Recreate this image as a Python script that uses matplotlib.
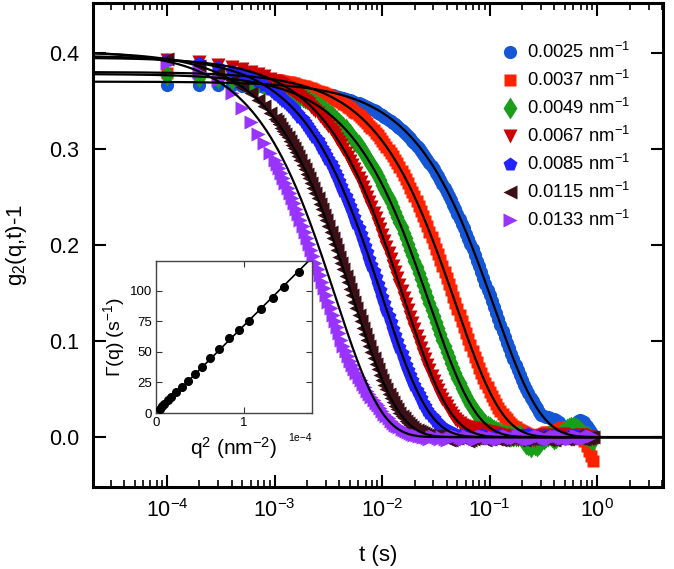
import numpy as np
import matplotlib
matplotlib.use("Agg")
import matplotlib.pyplot as plt
from matplotlib.ticker import LogLocator, NullFormatter

plt.rcParams['font.family'] = ['Liberation Sans', 'DejaVu Sans']
plt.rcParams['mathtext.fontset'] = 'custom'
plt.rcParams['mathtext.rm'] = 'Liberation Sans'
plt.rcParams['mathtext.it'] = 'Liberation Sans:italic'
plt.rcParams['mathtext.bf'] = 'Liberation Sans:bold'

# correlator lag times (s): channel times and the in-between channels
lag_t = [1e-4, 2e-4, 3e-4, 4e-4, 5e-4, 6e-4, 7e-4, 8e-4, 9e-4,
         1.000e-3, 1.096e-3, 1.202e-3, 1.318e-3, 1.445e-3, 1.585e-3, 1.738e-3, 1.905e-3,
         2.089e-3, 2.291e-3, 2.512e-3, 2.754e-3, 3.020e-3, 3.311e-3, 3.631e-3, 3.981e-3,
         4.365e-3, 4.786e-3, 5.248e-3, 5.754e-3, 6.310e-3, 6.918e-3, 7.586e-3, 8.318e-3, 9.120e-3,
         1.000e-2, 1.096e-2, 1.202e-2, 1.318e-2, 1.445e-2, 1.585e-2, 1.738e-2, 1.905e-2,
         2.089e-2, 2.291e-2, 2.512e-2, 2.754e-2, 3.020e-2, 3.311e-2, 3.631e-2, 3.981e-2,
         4.365e-2, 4.786e-2, 5.248e-2, 5.754e-2, 6.310e-2, 6.918e-2, 7.586e-2, 8.318e-2, 9.120e-2,
         1.000e-1, 1.096e-1, 1.202e-1, 1.318e-1, 1.445e-1, 1.585e-1, 1.738e-1, 1.905e-1,
         2.089e-1, 2.291e-1, 2.512e-1, 2.754e-1, 3.020e-1, 3.311e-1, 3.631e-1, 3.981e-1,
         4.365e-1, 4.786e-1, 5.248e-1, 5.754e-1, 6.310e-1, 6.918e-1, 7.586e-1, 8.318e-1, 9.120e-1]
lag_t_mid = [1.047e-3, 1.148e-3, 1.259e-3, 1.380e-3, 1.514e-3, 1.660e-3, 1.820e-3, 1.995e-3,
             2.188e-3, 2.399e-3, 2.630e-3, 2.884e-3, 3.162e-3, 3.467e-3, 3.802e-3, 4.169e-3,
             4.571e-3, 5.012e-3, 5.495e-3, 6.026e-3, 6.607e-3, 7.244e-3, 7.943e-3, 8.710e-3, 9.550e-3,
             1.047e-2, 1.148e-2, 1.259e-2, 1.380e-2, 1.514e-2, 1.660e-2, 1.820e-2, 1.995e-2,
             2.188e-2, 2.399e-2, 2.630e-2, 2.884e-2, 3.162e-2, 3.467e-2, 3.802e-2, 4.169e-2,
             4.571e-2, 5.012e-2, 5.495e-2, 6.026e-2, 6.607e-2, 7.244e-2, 7.943e-2, 8.710e-2, 9.550e-2,
             1.047e-1, 1.148e-1, 1.259e-1, 1.380e-1, 1.514e-1, 1.660e-1, 1.820e-1, 1.995e-1,
             2.188e-1, 2.399e-1, 2.630e-1, 2.884e-1, 3.162e-1, 3.467e-1, 3.802e-1, 4.169e-1,
             4.571e-1, 5.012e-1, 5.495e-1, 6.026e-1, 6.607e-1, 7.244e-1, 7.943e-1, 8.710e-1]

q_labels = ['0.0025 nm$^{-1}$', '0.0037 nm$^{-1}$', '0.0049 nm$^{-1}$', '0.0067 nm$^{-1}$',
            '0.0085 nm$^{-1}$', '0.0115 nm$^{-1}$', '0.0133 nm$^{-1}$']
colors = ['#1456d6', '#ff2200', '#1a9e1a', '#cc0000', '#2323ff', '#3d0f17', '#9933ff']
markers = ['o', 's', 'd', 'v', 'p', '<', '>']
msizes = [9.5, 9.0, 11.5, 9.5, 10, 9.5, 9.5]

# measured g2(q,t)-1 at lag_t
g2_0025 = [0.366, 0.366, 0.366, 0.366, 0.365, 0.365, 0.365, 0.364, 0.364,
           0.3637, 0.3633, 0.3630, 0.3626, 0.3622, 0.3617, 0.3612, 0.3607, 0.3601, 0.3594,
           0.3587, 0.3579, 0.3570, 0.3561, 0.3550, 0.3539, 0.3527, 0.3513, 0.3499, 0.3482,
           0.3465, 0.3446, 0.3425, 0.3402, 0.3377,
           0.3350, 0.3321, 0.3289, 0.3254, 0.3217, 0.3176, 0.3132, 0.3085, 0.3033, 0.2978,
           0.2919, 0.2855, 0.2787, 0.2713, 0.2635, 0.2552, 0.2465, 0.2372, 0.2274, 0.2172,
           0.2064, 0.1953, 0.1838, 0.1719, 0.1598,
           0.1474, 0.1350, 0.1226, 0.1103, 0.0982, 0.0865, 0.0752, 0.0646, 0.0546, 0.0454,
           0.0371, 0.0298, 0.0234, 0.021, 0.020, 0.019, 0.016, 0.011, 0.008, 0.010,
           0.015, 0.018, 0.016, 0.008, 0.002]
g2_0037 = [0.3792, 0.3784, 0.3776, 0.3768, 0.3760, 0.3753, 0.3745, 0.3737, 0.3729,
           0.3721, 0.3714, 0.3706, 0.3697, 0.3687, 0.3676, 0.3664, 0.3652, 0.3638, 0.3623,
           0.3606, 0.3588, 0.3568, 0.3546, 0.3522, 0.3497, 0.3469, 0.3438, 0.3405, 0.3369,
           0.3331, 0.3289, 0.3243, 0.3194, 0.3141,
           0.3084, 0.3022, 0.2956, 0.2885, 0.2809, 0.2729, 0.2643, 0.2552, 0.2456, 0.2354,
           0.2248, 0.2138, 0.2022, 0.1903, 0.1780, 0.1654, 0.1526, 0.1398, 0.1269, 0.1142,
           0.1017, 0.0896, 0.0779, 0.0668, 0.0565,
           0.0470, 0.0385, 0.0308, 0.0242, 0.0185, 0.0139, 0.0101, 0.0071, 0.0048, 0.0032,
           0.0020, 0.0012, 0.003, 0.005, 0.004, 0.006, 0.008, 0.010, 0.011, 0.010,
           0.009, 0.005, -0.004, -0.014, -0.025]
g2_0049 = [0.3766, 0.3753, 0.3739, 0.3726, 0.3712, 0.3698, 0.3685, 0.3672, 0.3658,
           0.3645, 0.3633, 0.3619, 0.3603, 0.3587, 0.3569, 0.3549, 0.3527, 0.3504, 0.3478,
           0.3450, 0.3420, 0.3387, 0.3352, 0.3313, 0.3271, 0.3226, 0.3177, 0.3124, 0.3067,
           0.3006, 0.2940, 0.2870, 0.2795, 0.2714,
           0.2629, 0.2539, 0.2443, 0.2342, 0.2237, 0.2126, 0.2011, 0.1893, 0.1770, 0.1645,
           0.1518, 0.1391, 0.1263, 0.1136, 0.1012, 0.0891, 0.0775, 0.0665, 0.0562, 0.0468,
           0.0383, 0.0307, 0.0241, 0.0184, 0.0138,
           0.0100, 0.0071, 0.0048, 0.0031, 0.0020, 0.0012, 0.0007, 0.002, -0.004, -0.008,
           -0.006, -0.009, -0.004, 0.000, 0.002, -0.002, 0.001, 0.004, 0.008, 0.010,
           0.009, 0.006, 0.002, 0.000, -0.003]
g2_0067 = [0.3925, 0.3901, 0.3876, 0.3852, 0.3827, 0.3803, 0.3779, 0.3756, 0.3732,
           0.3709, 0.3686, 0.3661, 0.3635, 0.3606, 0.3574, 0.3540, 0.3502, 0.3462, 0.3418,
           0.3371, 0.3320, 0.3265, 0.3205, 0.3141, 0.3073, 0.2999, 0.2920, 0.2836, 0.2747,
           0.2653, 0.2553, 0.2447, 0.2337, 0.2222,
           0.2102, 0.1978, 0.1850, 0.1719, 0.1587, 0.1453, 0.1319, 0.1187, 0.1057, 0.0931,
           0.0810, 0.0695, 0.0587, 0.0489, 0.0400, 0.0320, 0.0252, 0.0193, 0.0144, 0.012,
           0.010, 0.009, 0.008, 0.007, 0.006,
           0.005, 0.004, 0.003, 0.002, 0.001, 0.000, -0.002, -0.001, 0.001, 0.000,
           -0.003, -0.002, 0.001, 0.002, 0.000, -0.001, 0.002, 0.003, 0.001, -0.002,
           -0.001, 0.002, 0.001, 0.000, -0.002]
g2_0085 = [0.3930, 0.3891, 0.3853, 0.3814, 0.3776, 0.3739, 0.3702, 0.3665, 0.3628,
           0.3592, 0.3558, 0.3520, 0.3480, 0.3436, 0.3388, 0.3337, 0.3281, 0.3222, 0.3157,
           0.3088, 0.3014, 0.2935, 0.2851, 0.2761, 0.2666, 0.2566, 0.2460, 0.2349, 0.2233,
           0.2112, 0.1988, 0.1859, 0.1728, 0.1595,
           0.1461, 0.1326, 0.1193, 0.1062, 0.0936, 0.0814, 0.0698, 0.0590, 0.0491, 0.0402,
           0.0322, 0.0253, 0.0194, 0.0145, 0.0105, 0.0074, 0.0050, 0.0033, 0.0021, 0.0013,
           0.001, -0.001, 0.000, 0.002, 0.001,
           -0.001, 0.000, 0.002, 0.001, -0.002, 0.000, 0.001, -0.001, 0.002, 0.003,
           0.001, 0.000, -0.002, 0.001, 0.000, 0.002, 0.001, -0.001, 0.000, 0.002,
           0.001, 0.000, 0.001, -0.001, 0.000]
g2_0115 = [0.3934, 0.3860, 0.3787, 0.3716, 0.3645, 0.3577, 0.3509, 0.3443, 0.3378,
           0.3314, 0.3254, 0.3189, 0.3119, 0.3045, 0.2965, 0.2880, 0.2789, 0.2693, 0.2592,
           0.2485, 0.2373, 0.2256, 0.2134, 0.2008, 0.1878, 0.1746, 0.1611, 0.1475, 0.1339,
           0.1205, 0.1073, 0.0945, 0.0822, 0.0705,
           0.0596, 0.0496, 0.0406, 0.0325, 0.0255, 0.0196, 0.0146, 0.0106, 0.0075, 0.0051,
           0.0033, 0.0021, 0.0013, 0.0007, 0.000, -0.002, -0.003, -0.001, 0.000, -0.002,
           -0.004, -0.002, -0.001, 0.000, -0.003,
           -0.002, 0.000, -0.001, -0.003, -0.002, 0.000, 0.001, -0.002, -0.003, -0.001,
           0.000, -0.002, -0.001, 0.001, -0.002, -0.003, -0.001, 0.000, -0.002, -0.001,
           0.001, 0.000, -0.002, -0.001, 0.000]
g2_0133 = [0.389, 0.380, 0.372, 0.358, 0.343, 0.328, 0.316, 0.306, 0.296,
           0.2887, 0.2796, 0.2700, 0.2598, 0.2491, 0.2379, 0.2261, 0.2139, 0.2013, 0.1883,
           0.1750, 0.1615, 0.1479, 0.1343,
           0.121, 0.108, 0.095, 0.084, 0.075, 0.067, 0.059, 0.052, 0.045, 0.039,
           0.033, 0.027, 0.022, 0.017, 0.013, 0.010, 0.007, 0.005, 0.003, 0.002, 0.001,
           0.000, -0.002, 0.001, -0.001, 0.000, -0.003, -0.001, 0.001, 0.000, -0.002,
           0.001, -0.001, -0.002, 0.000, 0.001, -0.001, 0.000, -0.002, -0.001, 0.001,
           0.000, -0.001, 0.002, 0.000, -0.002, -0.001, 0.000, 0.001, -0.001, -0.002,
           0.000, 0.001, -0.001, 0.000, -0.002, 0.001, 0.000, -0.001, 0.000, 0.001]

# measured g2(q,t)-1 at lag_t_mid
g2_0025_mid = [0.3635, 0.3632, 0.3628, 0.3624, 0.3620, 0.3615, 0.3609, 0.3604, 0.3597, 0.3591,
               0.3583, 0.3575, 0.3566, 0.3556, 0.3545, 0.3533, 0.3520, 0.3506, 0.3491, 0.3474,
               0.3455, 0.3435, 0.3413, 0.3390, 0.3364, 0.3336, 0.3305, 0.3272, 0.3236, 0.3197,
               0.3154, 0.3109, 0.3059, 0.3006, 0.2949, 0.2887, 0.2821, 0.2751, 0.2675, 0.2595,
               0.2509, 0.2419, 0.2323, 0.2223, 0.2118, 0.2009, 0.1896, 0.1778, 0.1658, 0.1536,
               0.1412, 0.1288, 0.1164, 0.1042, 0.0923, 0.0808, 0.0698, 0.0595, 0.0499, 0.0412,
               0.0333, 0.0265, 0.022, 0.021, 0.019, 0.018, 0.013, 0.009, 0.009, 0.013,
               0.017, 0.017, 0.012, 0.005]
g2_0037_mid = [0.3718, 0.3710, 0.3701, 0.3692, 0.3682, 0.3670, 0.3658, 0.3645, 0.3630, 0.3614,
               0.3597, 0.3578, 0.3557, 0.3534, 0.3510, 0.3483, 0.3454, 0.3422, 0.3388, 0.3350,
               0.3310, 0.3266, 0.3219, 0.3168, 0.3113, 0.3053, 0.2989, 0.2921, 0.2848, 0.2770,
               0.2687, 0.2598, 0.2505, 0.2406, 0.2302, 0.2193, 0.2080, 0.1963, 0.1841, 0.1717,
               0.1591, 0.1462, 0.1334, 0.1205, 0.1079, 0.0956, 0.0836, 0.0723, 0.0616, 0.0517,
               0.0426, 0.0345, 0.0274, 0.0212, 0.0161, 0.0119, 0.0085, 0.0059, 0.0040, 0.0025,
               0.0016, 0.002, 0.004, 0.005, 0.005, 0.007, 0.009, 0.011, 0.011, 0.009,
               0.007, 0.001, -0.009, -0.020]
g2_0049_mid = [0.3639, 0.3626, 0.3611, 0.3595, 0.3578, 0.3559, 0.3538, 0.3516, 0.3491, 0.3465,
               0.3436, 0.3404, 0.3370, 0.3333, 0.3293, 0.3249, 0.3202, 0.3151, 0.3096, 0.3037,
               0.2974, 0.2906, 0.2833, 0.2755, 0.2672, 0.2584, 0.2491, 0.2393, 0.2290, 0.2182,
               0.2069, 0.1952, 0.1832, 0.1708, 0.1582, 0.1455, 0.1327, 0.1199, 0.1074, 0.0951,
               0.0832, 0.0719, 0.0613, 0.0514, 0.0424, 0.0343, 0.0273, 0.0211, 0.0160, 0.0118,
               0.0084, 0.0059, 0.0039, 0.0025, 0.0015, 0.0009, 0.001, -0.001, -0.007, -0.010,
               -0.008, -0.007, -0.002, 0.001, 0.000, -0.001, 0.003, 0.006, 0.009, 0.011,
               0.008, 0.004, 0.001, -0.002]
g2_0067_mid = [0.3698, 0.3674, 0.3648, 0.3621, 0.3590, 0.3557, 0.3521, 0.3483, 0.3441, 0.3395,
               0.3346, 0.3293, 0.3235, 0.3174, 0.3107, 0.3036, 0.2961, 0.2879, 0.2793, 0.2701,
               0.2603, 0.2501, 0.2393, 0.2280, 0.2162, 0.2040, 0.1914, 0.1785, 0.1653, 0.1520,
               0.1386, 0.1253, 0.1122, 0.0993, 0.0869, 0.0751, 0.0640, 0.0537, 0.0443, 0.0359,
               0.0285, 0.0221, 0.0167, 0.013, 0.011, 0.0095, 0.0085, 0.0075, 0.0065, 0.0055,
               0.0045, 0.0035, 0.0025, 0.0015, 0.000, -0.001, -0.002, 0.000, 0.001, -0.002,
               -0.003, 0.000, 0.002, 0.001, -0.001, 0.001, 0.002, 0.002, -0.001, -0.002,
               0.001, 0.002, 0.000, -0.001]
g2_0085_mid = [0.3575, 0.3539, 0.3500, 0.3458, 0.3412, 0.3363, 0.3309, 0.3252, 0.3190, 0.3123,
               0.3052, 0.2976, 0.2894, 0.2807, 0.2714, 0.2617, 0.2513, 0.2405, 0.2291, 0.2173,
               0.2051, 0.1924, 0.1794, 0.1662, 0.1528, 0.1393, 0.1259, 0.1127, 0.0998, 0.0874,
               0.0755, 0.0644, 0.0540, 0.0445, 0.0360, 0.0286, 0.0222, 0.0168, 0.0124, 0.0089,
               0.0062, 0.0041, 0.0027, 0.0016, 0.0010, 0.000, 0.000, 0.001, 0.002, 0.000,
               -0.001, 0.001, 0.002, -0.001, -0.001, 0.000, 0.001, 0.002, 0.002, 0.000,
               -0.001, 0.001, 0.001, -0.001, 0.001, 0.002, 0.000, 0.000, 0.001, 0.002,
               0.001, 0.000, 0.000, -0.001]
g2_0115_mid = [0.3285, 0.3222, 0.3155, 0.3082, 0.3005, 0.2923, 0.2835, 0.2742, 0.2643, 0.2539,
               0.2429, 0.2315, 0.2195, 0.2071, 0.1943, 0.1812, 0.1679, 0.1543, 0.1408, 0.1272,
               0.1139, 0.1009, 0.0883, 0.0763, 0.0650, 0.0545, 0.0450, 0.0364, 0.0289, 0.0224,
               0.0170, 0.0125, 0.0089, 0.0062, 0.0042, 0.0027, 0.0016, 0.0010, 0.000, -0.001,
               -0.003, -0.002, -0.001, -0.001, -0.003, -0.003, -0.001, -0.001, -0.002, -0.002,
               -0.001, -0.002, -0.003, -0.001, 0.000, -0.001, -0.003, -0.002, -0.001, -0.001,
               -0.002, 0.000, -0.001, -0.003, -0.002, -0.001, -0.001, -0.002, -0.001, 0.000,
               -0.001, -0.002, -0.001, 0.000]
g2_0133_mid = [0.2842, 0.2748, 0.2650, 0.2545, 0.2435, 0.2320, 0.2201, 0.2076, 0.1948, 0.1817,
               0.1683, 0.1547, 0.1411, 0.1275, 0.1145, 0.1015, 0.0895, 0.0795, 0.071, 0.063,
               0.0555, 0.0485, 0.042, 0.036, 0.030, 0.0245, 0.0195, 0.015, 0.0115, 0.0085,
               0.006, 0.004, 0.0025, 0.0015, 0.0005, -0.001, 0.000, 0.000, -0.002, -0.002,
               -0.002, 0.000, 0.001, -0.001, -0.001, 0.000, -0.002, -0.001, 0.001, 0.000,
               -0.001, -0.001, -0.002, 0.000, 0.001, -0.001, 0.001, 0.001, -0.001, -0.002,
               -0.001, 0.001, 0.000, -0.002, -0.001, 0.001, 0.000, -0.001, -0.001, -0.001,
               0.001, -0.001, -0.001, 0.001]

# single exponential fits: g2-1 = beta * exp(-2 Gamma t)
beta_fit = [0.370, 0.380, 0.378, 0.395, 0.397, 0.401, 0.402]
gamma_fit = [4.56, 10.45, 18.16, 31.55, 50.0, 95.3, 137.7]

# inset: decay rate vs q^2
q2_inset = [0.045e-4, 0.064e-4, 0.095e-4, 0.133e-4, 0.174e-4, 0.227e-4, 0.292e-4,
            0.367e-4, 0.443e-4, 0.527e-4, 0.617e-4, 0.716e-4, 0.826e-4, 0.936e-4,
            1.053e-4, 1.186e-4, 1.322e-4, 1.455e-4, 1.617e-4]
gamma_inset = [3.5, 5.4, 7.6, 10.3, 13.0, 17.1, 21.2, 26.6, 32.0, 37.5, 44.8, 52.4,
               61.4, 68.0, 75.5, 85.0, 93.8, 102.7, 115.5]

series = [g2_0025, g2_0037, g2_0049, g2_0067, g2_0085, g2_0115, g2_0133]
series_mid = [g2_0025_mid, g2_0037_mid, g2_0049_mid, g2_0067_mid, g2_0085_mid,
              g2_0115_mid, g2_0133_mid]

fig = plt.figure(figsize=(6.74, 5.69), dpi=100)
ax = fig.add_axes([0.138, 0.144, 0.846, 0.851])

t_all = lag_t + lag_t_mid
for y, ym, lab, c, m, ms in zip(series, series_mid, q_labels, colors, markers, msizes):
    ax.plot(t_all, y + ym, ls='none', marker=m, ms=ms, color=c, mec='none', label=lab)

t_fit = np.logspace(np.log10(2e-5), np.log10(5), 500)
for b, g in zip(beta_fit, gamma_fit):
    ax.plot(t_fit, b * np.exp(-2 * g * t_fit), color='k', lw=1.6, zorder=5)

ax.set_xscale('log')
ax.set_xlim(2.05e-5, 4.1)
ax.set_ylim(-0.052, 0.452)
ax.set_yticks([0.0, 0.1, 0.2, 0.3, 0.4])
ax.set_yticklabels(['0.0', '0.1', '0.2', '0.3', '0.4'])
ax.xaxis.set_major_locator(LogLocator(base=10, numticks=12))
ax.xaxis.set_minor_locator(LogLocator(base=10, subs=np.arange(2, 10), numticks=12))
ax.xaxis.set_minor_formatter(NullFormatter())
ax.tick_params(which='both', direction='in', top=True, right=True, labelsize=15.5)
ax.tick_params(which='major', length=9, width=1.5)
ax.tick_params(which='minor', length=5, width=1.2)
ax.tick_params(axis='y', pad=10)
ax.tick_params(axis='x', pad=9)
for s in ax.spines.values():
    s.set_linewidth(2.2)
ax.set_xlabel('t (s)', fontsize=16, labelpad=16.5)
ax.set_ylabel('g$_2$(q,t)-1', fontsize=16, labelpad=14)

ax.legend(loc='upper left', bbox_to_anchor=(0.7175, 0.919), frameon=False, fontsize=13.2,
          numpoints=1, handlelength=0.9, handletextpad=0.46, borderpad=0,
          labelspacing=0.43, borderaxespad=0)

# inset
axi = fig.add_axes([0.2315, 0.274, 0.2315, 0.267])
axi.set_facecolor('white')
axi.plot(q2_inset, gamma_inset, 'o', color='k', ms=5.5, zorder=3)
q2 = np.array(q2_inset)
slope = np.sum(q2 * np.array(gamma_inset)) / np.sum(q2 ** 2)
xx = np.array([0, 1.8e-4])
axi.plot(xx, slope * xx, color='k', lw=1.2)
axi.set_xlim(0, 1.77e-4)
axi.set_ylim(0, 124)
axi.set_xticks([0, 1e-4])
axi.set_yticks([0, 25, 50, 75, 100])
axi.ticklabel_format(axis='x', style='sci', scilimits=(0, 0))
axi.xaxis.get_offset_text().set_fontsize(7.5)
axi.tick_params(direction='in', top=True, right=True, labelsize=9.5, length=4,
                width=0.8, pad=3, color='#333333')
for s in axi.spines.values():
    s.set_linewidth(1.0)
    s.set_color('#444444')
axi.set_xlabel('q$^2$ (nm$^{-2}$)', fontsize=15, labelpad=4)
axi.set_ylabel('\u0393(q) (s$^{-1}$)', fontsize=14, labelpad=2)

fig.savefig('out.png', dpi=100)
